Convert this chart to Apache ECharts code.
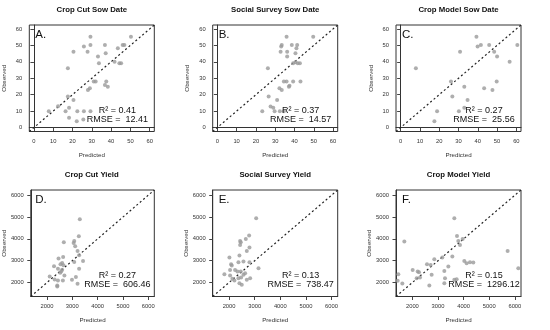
<!DOCTYPE html>
<html><head><meta charset="utf-8">
<script src="https://cdn.jsdelivr.net/npm/echarts@6/dist/echarts.min.js"></script>
<style>html,body{margin:0;padding:0;background:#fff}#c{width:550px;height:330px}</style>
</head><body><div id="c"></div>
<script>
// ---- data ----
const panelTitles = ['Crop Cut Sow Date','Social Survey Sow Date','Crop Model Sow Date','Crop Cut Yield','Social Survey Yield','Crop Model Yield'];
const panelLetters = ['A.','B.','C.','D.','E.','F.'];
const r2Values = ['0.41','0.37','0.27','0.27','0.13','0.15'];
const rmseValues = ['12.41','14.57','25.56','606.46','738.47','1296.12'];
const sowTicks = [0,10,20,30,40,50,60];
const yieldTicks = [2000,3000,4000,5000,6000];
const sowRange = [-2.4, 62.4];
const yieldRange = [1360, 6240];

// [predicted, observed]
const cropCutSow = [[17.6,36.1],[20.5,46.2],[25.9,49.3],[27.8,46.2],[29.3,55.3],[29.3,50.3],[33.2,43.2],[33.7,39.1],[36.8,50.3],[37.2,45.2],[43.5,48.2],[44.3,39.1],[45.2,39.1],[46,50.3],[46.9,50.3],[50.3,55.3],[41.8,40.1],[31,28],[32,28],[28,22.9],[29,23.9],[36.8,25.9],[37.5,28],[38.3,24.9],[17.6,18.9],[20.5,16.8],[18.2,12],[7.7,9.9],[16.4,9.9],[22.5,9.9],[25.9,9.9],[29.3,9.9],[18.2,5.9],[22.2,3.9],[25.6,4.9],[12.5,13]];
const surveySow = [[26.2,36.1],[33.1,49.3],[33.4,50.3],[32.8,46.2],[35.9,55.3],[36.2,46.2],[36.2,43.2],[38.6,50.3],[40.5,45.2],[41.4,50.3],[41,48.2],[49.7,55.3],[39.3,39.1],[40.5,39.7],[41.7,39.1],[42.8,39.1],[34.5,28],[35.9,28],[39.3,28],[43.1,28],[37.4,25.5],[37.1,24.9],[32.2,23.9],[33.4,22.9],[26.6,18.9],[31,16.8],[27.6,12.8],[29,12],[23.3,9.9],[29.7,9.9],[32.4,9.9],[34.5,9.9]];
const modelSow = [[7.9,36.1],[18.9,9.9],[17.5,3.9],[26.1,28],[26.8,18.9],[30.8,46.2],[33,24.9],[34.7,16.8],[30.2,9.9],[39.3,55.3],[39.9,49.3],[41.6,50.3],[45.9,50.3],[48.5,46.2],[50,43.2],[43.3,23.9],[47.6,22.9],[49.8,28],[56.5,40.1],[60.5,50.3],[33,12]];
const cropCutYield = [[3297,4905],[2665,3846],[3076,3906],[3052,3814],[3258,4122],[3114,3662],[3207,3445],[3269,3247],[2638,3169],[2456,3096],[2599,2893],[2534,2833],[2650,2787],[3076,2939],[3424,2985],[2278,2741],[2433,2635],[2599,2589],[2561,2511],[2522,2451],[3269,2635],[2107,2281],[2301,2142],[2433,2096],[2627,2096],[2987,2129],[3142,2248],[2406,1866],[2406,1820],[3207,1945],[2688,2327]];
const surveyYield = [[3057,4944],[2782,4151],[2652,3998],[2430,3907],[2456,3846],[2430,3724],[2796,3602],[2691,3449],[2404,3236],[2013,3144],[2561,2961],[2796,2931],[2365,2931],[2078,2839],[2104,2778],[3148,2656],[2234,2580],[2039,2580],[2326,2504],[2456,2504],[2626,2428],[1817,2382],[2039,2321],[2561,2351],[2469,2229],[2365,2199],[2130,2168],[2208,2092],[2822,2199],[2691,2123],[2404,1970],[2495,1894]];
const modelYield = [[3637,4944],[3741,4135],[3793,3907],[3858,3724],[3962,3998],[1685,3876],[3559,3190],[3168,3144],[2856,3068],[2570,2839],[2713,2809],[3403,2732],[4027,2992],[4118,2885],[4248,2931],[4378,2915],[5718,3449],[6135,2656],[2011,2580],[2206,2504],[2258,2473],[2752,2351],[3247,2534],[1451,2382],[1425,2077],[1607,1955],[2167,2199],[2297,2229],[3273,2199],[3247,1970],[2661,1863],[3637,2122],[3728,2153]];

const panelData = [cropCutSow, surveySow, modelSow, cropCutYield, surveyYield, modelYield];

// ---- layout ----
const colLefts = [29.3, 212.7, 396];
const rowTops = [25, 190];
const W = 125, H = 106.5;
const FONT = 'Liberation Sans, Arial, sans-serif';

const grid = [], xAxis = [], yAxis = [], series = [], graphic = [];
for (let i = 0; i < 6; i++) {
  const left = colLefts[i % 3], top = rowTops[Math.floor(i / 3)];
  const isSow = i < 3;
  const ticks = isSow ? sowTicks : yieldTicks;
  const range = isSow ? sowRange : yieldRange;
  grid.push({left: left, top: top, width: W, height: H, show: true, borderColor: '#333', borderWidth: 1, backgroundColor: 'transparent'});
  const common = {
    type: 'value', gridIndex: i, min: range[0], max: range[1],
    axisLine: {show: true, lineStyle: {color: '#333', width: 1}}, splitLine: {show: false},
    axisTick: {show: true, inside: false, length: 3.5, customValues: ticks, lineStyle: {color: '#444', width: 1}},
    axisLabel: {customValues: ticks, fontSize: 5.8, color: '#333', fontFamily: FONT, margin: 7, formatter: v => String(v)},
    nameLocation: 'middle',
    nameTextStyle: {fontSize: 6.2, color: '#333', fontFamily: FONT}
  };
  xAxis.push(Object.assign({}, common, {name: 'Predicted', nameGap: 21}));
  yAxis.push(Object.assign({}, common, {name: 'Observed', nameGap: 22, nameRotate: 90}));
  series.push({
    type: 'scatter', xAxisIndex: i, yAxisIndex: i, data: panelData[i],
    symbol: 'circle', symbolSize: 4, itemStyle: {color: '#9a9a9a'}, silent: true, z: 3
  });
  series.push({
    type: 'line', xAxisIndex: i, yAxisIndex: i,
    data: [[range[0], range[0]], [range[1], range[1]]],
    symbol: 'none', silent: true, z: 2,
    lineStyle: {color: '#222', width: 1.2, type: [2, 2.5]}
  });
  graphic.push({type: 'text', x: left + W / 2, y: top - 15,
    style: {text: panelTitles[i], font: 'bold 7.8px ' + FONT, fill: '#111', align: 'center', verticalAlign: 'middle'}});
  graphic.push({type: 'text', x: left + 6, y: top + 4,
    style: {text: panelLetters[i], font: '11.5px ' + FONT, fill: '#111', align: 'left', verticalAlign: 'top'}});
  graphic.push({type: 'text', x: left + 88, y: top + 86, z: 10,
    style: {text: 'R\u00b2 = ' + r2Values[i], font: '9px ' + FONT, fill: '#111', align: 'center', verticalAlign: 'middle'}});
  graphic.push({type: 'text', x: left + 88, y: top + 94.5, z: 10,
    style: {text: 'RMSE =  ' + rmseValues[i], font: '9px ' + FONT, fill: '#111', align: 'center', verticalAlign: 'middle'}});
}

const chart = echarts.init(document.getElementById('c'), null, {renderer: 'canvas'});
chart.setOption({animation: false, backgroundColor: '#fff', grid, xAxis, yAxis, series, graphic});
</script></body></html>
